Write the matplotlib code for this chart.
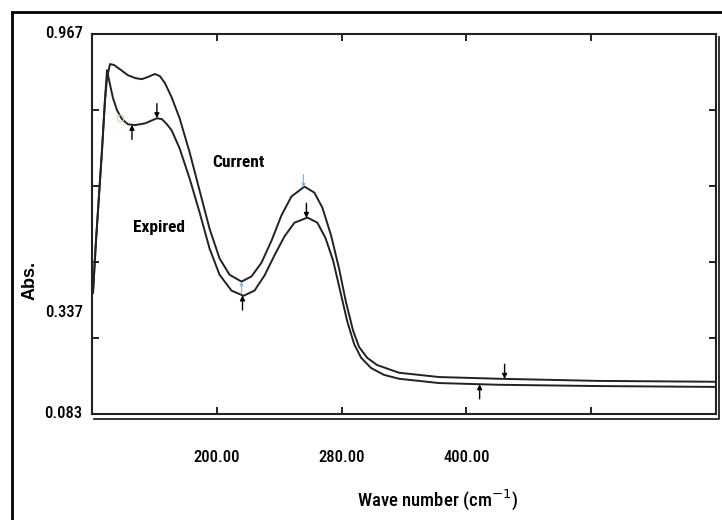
import numpy as np
import matplotlib
matplotlib.use("Agg")
import matplotlib.pyplot as plt
from matplotlib.lines import Line2D
from matplotlib.patches import Rectangle

# spectrum (x in scan units, y in absorbance)
wave = [150.4, 151.6, 152.8, 154.0, 155.2, 156.0, 157.2, 158.8, 161.2, 164.4,
        167.6, 170.0, 172.4, 175.2, 177.2, 179.2, 181.9, 185.1, 189.1, 193.1,
        197.1, 201.1, 205.1, 209.9, 213.9, 217.9, 221.9, 225.9, 229.9, 235.1,
        239.1, 242.3, 245.8, 249.0, 251.8, 254.6, 257.0, 260.2, 264.2, 273.0,
        289.0, 312.9, 352.9, 400.0]
current = [0.365, 0.486, 0.591, 0.696, 0.813, 0.864, 0.897, 0.895, 0.885, 0.871,
           0.864, 0.862, 0.867, 0.874, 0.869, 0.853, 0.820, 0.771, 0.692, 0.603,
           0.514, 0.445, 0.407, 0.391, 0.403, 0.435, 0.486, 0.545, 0.589, 0.612,
           0.598, 0.563, 0.498, 0.421, 0.342, 0.277, 0.239, 0.214, 0.197, 0.179,
           0.169, 0.165, 0.160, 0.158]

wave_exp = [150.4, 151.6, 152.8, 154.0, 155.2, 156.0, 157.2, 158.4, 160.0, 162.0,
            164.4, 167.2, 171.2, 174.0, 176.0, 178.0, 180.0, 181.9, 185.1, 189.1,
            193.1, 197.1, 201.1, 205.9, 210.7, 215.1, 219.1, 223.1, 227.1, 231.1,
            236.3, 240.3, 243.5, 246.6, 249.4, 252.2, 255.0, 257.8, 261.8, 267.0,
            273.0, 289.0, 312.9, 352.9, 400.0]
expired = [0.365, 0.486, 0.591, 0.696, 0.813, 0.883, 0.850, 0.818, 0.790, 0.769,
           0.757, 0.755, 0.759, 0.766, 0.771, 0.769, 0.757, 0.743, 0.701, 0.631,
           0.552, 0.468, 0.407, 0.370, 0.358, 0.370, 0.405, 0.452, 0.496, 0.528,
           0.540, 0.528, 0.493, 0.440, 0.370, 0.300, 0.246, 0.214, 0.190, 0.174,
           0.165, 0.155, 0.151, 0.148, 0.146]

xtick_pos = [200, 250, 300, 350]
xtick_lab = ["200.00", "280.00", "400.00", ""]
ylab_vals = [0.967, 0.337, 0.083]

# peak pick arrows: (x, which curve, direction)
black_arrows = [(166.0, "exp", "up"), (176.0, "exp", "down"), (210.3, "exp", "up"),
                (235.9, "exp", "down"), (315.3, "cur", "down"), (305.3, "exp", "up")]
blue_arrows = [(209.9, "cur", "up"), (234.7, "cur", "down")]

narrow = ["Roboto Condensed", "Liberation Sans", "DejaVu Sans"]

fig = plt.figure(figsize=(7.22, 5.2), dpi=100)
W, H = 722, 520
ax = fig.add_axes([92 / W, 1 - 414 / H, 624 / W, 380 / H])

ax.plot(wave, current, color="#222222", lw=1.4)
ax.plot(wave_exp, expired, color="#222222", lw=1.4)

ax.set_xlim(150, 400)
ax.set_ylim(0.083, 0.967)

ax.set_xticks(xtick_pos)
ax.set_xticklabels(xtick_lab, fontfamily=narrow, fontsize=12, fontweight="medium")
ax.set_yticks(np.linspace(0.083, 0.967, 6)[1:-1])
ax.set_yticklabels([])
ax.tick_params(direction="in", length=5, width=1.2, top=True, right=True, pad=26)
for s in ax.spines.values():
    s.set_linewidth(1.5)
    s.set_color("#222222")

for v in ylab_vals:
    va = "top" if v == 0.337 else "center"
    ax.text(-0.015, v, "%.3f" % v, transform=ax.get_yaxis_transform(), ha="right",
            va=va, fontfamily=narrow, fontsize=12, fontweight="medium")


def curve_y(x, which):
    if which == "cur":
        return np.interp(x, wave, current)
    return np.interp(x, wave_exp, expired)


for x, which, d in black_arrows:
    y = curve_y(x, which)
    off = -0.034 if d == "up" else 0.034
    ax.annotate("", xy=(x, y), xytext=(x, y + off),
                arrowprops=dict(arrowstyle="-|>", color="black", lw=1.0,
                                mutation_scale=7, shrinkA=0, shrinkB=0))
for x, which, d in blue_arrows:
    y = curve_y(x, which)
    off = -0.026 if d == "up" else 0.03
    ax.annotate("", xy=(x, y), xytext=(x, y + off),
                arrowprops=dict(arrowstyle="-|>", color="#7fb0e8", lw=0.8,
                                mutation_scale=5, shrinkA=0, shrinkB=0))

ax.plot([161.2], [0.771], marker="o", ms=5, mfc="none", mec="#b8dcb0", mew=0.8)

ax.text(208.7, 0.669, "Current", ha="center", va="center", fontfamily=narrow,
        fontsize=12.5, fontweight="bold")
ax.text(177.0, 0.518, "Expired", ha="center", va="center", fontfamily=narrow,
        fontsize=12.5, fontweight="bold")

fig.text(30 / W, 1 - 280 / H, "Abs.", rotation=90, ha="center", va="center",
         fontsize=13, fontweight="bold", fontfamily=["Liberation Sans", "DejaVu Sans"])
fig.text(437 / W, 1 - 500 / H, "Wave number (cm$^{-1}$)", ha="center", va="center",
         fontfamily=narrow, fontsize=13.5, fontweight="medium")

# shadow line of the axes frame
fig.add_artist(Line2D([94 / W, 719 / W, 719 / W], [1 - 419 / H, 1 - 419 / H, 1 - 37 / H],
                      color="#222222", lw=1.3))
# outer border
fig.add_artist(Rectangle((12 / W, -0.1), 1.2, 1 - 12 / H + 0.1, fill=False,
                         edgecolor="black", lw=2, transform=fig.transFigure))

fig.savefig("out.png", dpi=100)
